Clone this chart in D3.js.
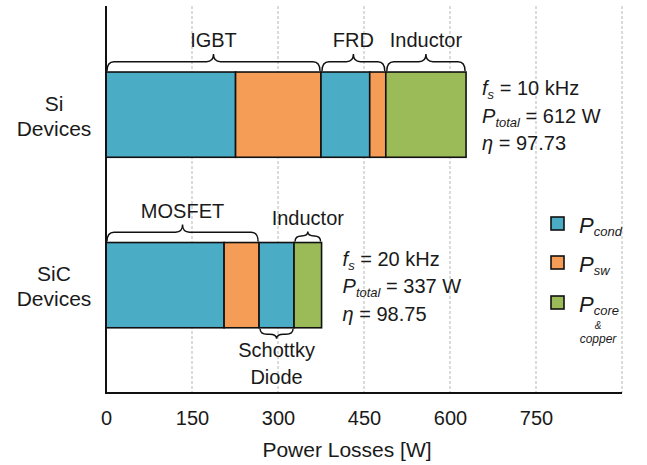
<!DOCTYPE html>
<html>
<head>
<meta charset="utf-8">
<script src="https://cdn.jsdelivr.net/npm/d3@7"></script>
<style>
  body { margin: 0; background: #fff; }
  text { font-family: "Liberation Sans", Arial, sans-serif; fill: #1a1a1a; }
</style>
</head>
<body>
<div id="chart"></div>
<script>
// devices on the y axis
var devices = ["Si", "SiC"];
var deviceLines = [["Si", "Devices"], ["SiC", "Devices"]];

// stacked segments of each bar (W) and their loss type
var siLosses = [226, 149, 85, 28, 140];
var siTypes = ["cond", "sw", "cond", "sw", "core"];
var sicLosses = [206, 61, 61, 48];
var sicTypes = ["cond", "sw", "cond", "core"];

// braces: how many segments each group spans, and on which side
var siGroups = ["IGBT", "FRD", "Inductor"];
var siGroupSizes = [2, 2, 1];
var siGroupSides = ["top", "top", "top"];
var sicGroups = ["MOSFET", "Schottky|Diode", "Inductor"];
var sicGroupSizes = [2, 1, 1];
var sicGroupSides = ["top", "bottom", "top"];

// text next to bars
var siNotes = ["10 kHz", "612 W", "97.73"];
var sicNotes = ["20 kHz", "337 W", "98.75"];
var noteSymbols = [["f", "s"], ["P", "total"], ["\u03b7", ""]];

// axis
var xTicks = [0, 150, 300, 450, 600, 750];
var gridVals = [150, 300, 450, 600, 750, 900];

// legend
var legendTypes = ["cond", "sw", "core"];
var legendSubs = ["cond", "sw", "core"];

var colors = {cond: "#4bacc6", sw: "#f59d56", core: "#9bbb59"};

var w = 647, h = 465;
var svg = d3.select("#chart").append("svg")
  .attr("width", w)
  .attr("height", h);

var x = d3.scaleLinear().domain([0, 900]).range([106, 622]);
var y = d3.scaleBand().domain(devices).range([29.4, 370.4])
  .paddingInner(0.5).paddingOuter(0.25);

//dashed grid
svg.selectAll("line.grid")
  .data(gridVals)
  .enter()
  .append("line")
  .attr("class", "grid")
  .attr("x1", function(d) { return x(d); })
  .attr("x2", function(d) { return x(d); })
  .attr("y1", 6)
  .attr("y2", 393)
  .attr("stroke", "#c4c4c4")
  .attr("stroke-width", 1.2)
  .attr("stroke-dasharray", "3,2");

//build stacked rows
function stackRow(vals, types) {
  var out = [], s = 0;
  vals.forEach(function(v, i) {
    out.push({x0: s, x1: s + v, type: types[i]});
    s += v;
  });
  return out;
}
var rows = [
  {dev: "Si", segs: stackRow(siLosses, siTypes), groups: siGroups, sizes: siGroupSizes, sides: siGroupSides, notes: siNotes, gap: 16},
  {dev: "SiC", segs: stackRow(sicLosses, sicTypes), groups: sicGroups, sizes: sicGroupSizes, sides: sicGroupSides, notes: sicNotes, gap: 21}
];

var bw = y.bandwidth();

rows.forEach(function(r) {
  var top = y(r.dev);
  svg.append("g").selectAll("rect")
    .data(r.segs)
    .enter()
    .append("rect")
    .attr("x", function(d) { return x(d.x0); })
    .attr("y", top)
    .attr("width", function(d) { return x(d.x1) - x(d.x0); })
    .attr("height", bw)
    .attr("fill", function(d) { return colors[d.type]; })
    .attr("stroke", "#111")
    .attr("stroke-width", 1.6);

  //braces + group labels
  var k = 0;
  r.groups.forEach(function(name, gi) {
    var a = r.segs[k].x0;
    var b = r.segs[k + r.sizes[gi] - 1].x1;
    k += r.sizes[gi];
    var x1 = x(a) + 1, x2 = x(b) - 1;
    var small = (x2 - x1) < 60;
    var hh = small ? 10 : 17;
    var dir = r.sides[gi] == "top" ? -1 : 1;
    var y0 = r.sides[gi] == "top" ? top - 1 : top + bw + 1;
    svg.append("path")
      .attr("d", brace(x1, x2, y0, hh, dir))
      .attr("fill", "none")
      .attr("stroke", "#111")
      .attr("stroke-width", 1.4);
    var lines = name.split("|");
    var xm = (x1 + x2) / 2;
    lines.forEach(function(t, li) {
      var ty;
      if (dir < 0) ty = y0 - hh - 7 - (lines.length - 1 - li) * 26;
      else ty = y0 + hh + 18 + li * 27;
      svg.append("text")
        .attr("x", xm)
        .attr("y", ty)
        .attr("text-anchor", "middle")
        .attr("font-size", 20)
        .text(t);
    });
  });

  //notes on the right of bar
  var total = r.segs[r.segs.length - 1].x1;
  var cy = top + bw / 2;
  r.notes.forEach(function(n, i) {
    var t = svg.append("text")
      .attr("x", x(total) + r.gap)
      .attr("y", cy + (i - 1) * 27.5 + 8)
      .attr("font-size", 20);
    t.append("tspan").attr("font-style", "italic").text(noteSymbols[i][0]);
    if (noteSymbols[i][1] != "") {
      t.append("tspan").attr("font-style", "italic").attr("font-size", 13)
        .attr("dy", 4).text(noteSymbols[i][1]);
      t.append("tspan").attr("dy", -4).text(" = " + n);
    } else {
      t.append("tspan").text(" = " + n);
    }
  });
});

// curly brace from x1 to x2, opening toward the bar at y0
function brace(x1, x2, y0, hh, dir) {
  var q = hh * 0.55, r = Math.min(7, (x2 - x1) / 4);
  var xm = (x1 + x2) / 2;
  var yf = y0 + dir * q, yt = y0 + dir * hh;
  return "M" + x1 + "," + y0 +
    " Q" + x1 + "," + yf + " " + (x1 + r) + "," + yf +
    " L" + (xm - r) + "," + yf +
    " Q" + xm + "," + yf + " " + xm + "," + yt +
    " Q" + xm + "," + yf + " " + (xm + r) + "," + yf +
    " L" + (x2 - r) + "," + yf +
    " Q" + x2 + "," + yf + " " + x2 + "," + y0;
}

//device labels
devices.forEach(function(d, i) {
  var cy = y(d) + bw / 2;
  deviceLines[i].forEach(function(t, li) {
    svg.append("text")
      .attr("x", 54)
      .attr("y", cy - 4 + li * 25)
      .attr("text-anchor", "middle")
      .attr("font-size", 21)
      .text(t);
  });
});

//axes lines
svg.append("line")
  .attr("x1", x(0)).attr("x2", x(0))
  .attr("y1", 6).attr("y2", 394)
  .attr("stroke", "#111").attr("stroke-width", 2);
svg.append("line")
  .attr("x1", x(0) - 1).attr("x2", x(900))
  .attr("y1", 393).attr("y2", 393)
  .attr("stroke", "#111").attr("stroke-width", 2);

//tick labels
var xAxis = d3.axisBottom(x).tickValues(xTicks).tickSize(0).tickPadding(0);
var ax = svg.append("g")
  .attr("transform", "translate(0,411)")
  .call(xAxis);
ax.select(".domain").remove();
ax.selectAll("text")
  .attr("font-size", 20)
  .attr("dy", "0.71em")
  .style("font-family", '"Liberation Sans", Arial, sans-serif')
  .attr("fill", "#1a1a1a");

svg.append("text")
  .attr("x", 347)
  .attr("y", 457)
  .attr("text-anchor", "middle")
  .attr("font-size", 21)
  .text("Power Losses [W]");

//legend
var lg = svg.append("g");
legendTypes.forEach(function(t, i) {
  var ly = [217, 256, 296][i];
  lg.append("rect")
    .attr("x", 551).attr("y", ly)
    .attr("width", 13).attr("height", 13)
    .attr("fill", colors[t])
    .attr("stroke", "#111").attr("stroke-width", 1.6);
  var tx = lg.append("text")
    .attr("x", 579).attr("y", ly + 16)
    .attr("font-size", 22).attr("font-style", "italic");
  tx.append("tspan").text("P");
  tx.append("tspan").attr("font-size", 13).attr("dy", 3).text(legendSubs[i]);
});
lg.append("text").attr("x", 598).attr("y", 329)
  .attr("text-anchor", "middle").attr("font-size", 10)
  .attr("font-style", "italic").text("&");
lg.append("text").attr("x", 598).attr("y", 343)
  .attr("text-anchor", "middle").attr("font-size", 12)
  .attr("font-style", "italic").text("copper");
</script>
</body>
</html>
